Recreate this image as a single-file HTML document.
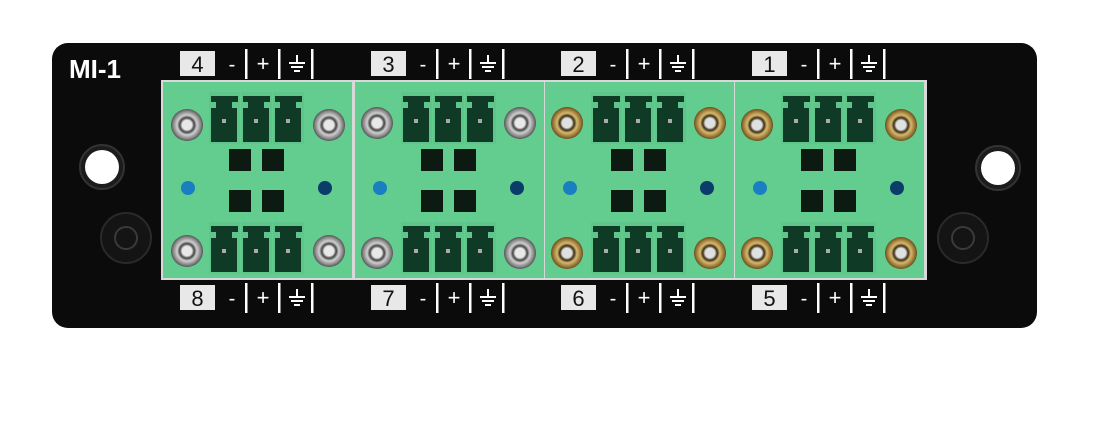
<!DOCTYPE html>
<html><head><meta charset="utf-8"><style>
html,body{margin:0;padding:0;background:#fff;}
svg{display:block;}
text{font-family:"Liberation Sans",sans-serif;}
</style></head><body>
<svg width="1100" height="438" viewBox="0 0 1100 438" xmlns="http://www.w3.org/2000/svg">
<defs>
<radialGradient id="steel" cx="50%" cy="50%" r="50%">
<stop offset="0.3" stop-color="#e8e8e8"/><stop offset="0.45" stop-color="#444"/><stop offset="0.62" stop-color="#cfcfcf"/><stop offset="0.85" stop-color="#8a8a8a"/><stop offset="1" stop-color="#555"/></radialGradient>
<radialGradient id="brass" cx="50%" cy="50%" r="50%">
<stop offset="0.3" stop-color="#e0e0e0"/><stop offset="0.45" stop-color="#3a2e14"/><stop offset="0.62" stop-color="#d8b870"/><stop offset="0.85" stop-color="#9a7a38"/><stop offset="1" stop-color="#6a5020"/></radialGradient>
<g id="conn">
<rect x="0" y="0" width="31" height="52" fill="#5fc58a"/>
<path d="M2,4 h27 v6 h-6 v6 h5 v34 h-26 v-34 h5 v-6 h-5z" fill="#0f3a26"/>
<rect x="13" y="27" width="4" height="4" fill="#aaa"/>
</g>
<g id="mod">
<rect x="0" y="0" width="189" height="196" fill="#62cd8f"/>
<use href="#conn" x="46" y="10"/><use href="#conn" x="78" y="10"/><use href="#conn" x="110" y="10"/>
<use href="#conn" x="46" y="140"/><use href="#conn" x="78" y="140"/><use href="#conn" x="110" y="140"/>
<rect x="66" y="67" width="22" height="22" fill="#0c1a12"/><rect x="99" y="67" width="22" height="22" fill="#0c1a12"/>
<rect x="66" y="108" width="22" height="22" fill="#0c1a12"/><rect x="99" y="108" width="22" height="22" fill="#0c1a12"/>
<circle cx="25" cy="106" r="7" fill="#1a7fc0"/><circle cx="162" cy="106" r="7" fill="#0b3c6a"/>
</g>
<g id="lab">
<rect x="0" y="0" width="35" height="25" fill="#e8e8e8"/>
<text x="52" y="20" font-size="20" fill="#fff" text-anchor="middle">-</text>
<rect x="65" y="-2" width="2.5" height="30" fill="#fff"/>
<text x="83" y="20" font-size="22" fill="#fff" text-anchor="middle">+</text>
<rect x="98" y="-2" width="2.5" height="30" fill="#fff"/>
<g stroke="#fff" stroke-width="2"><line x1="117" y1="4" x2="117" y2="12"/><line x1="109" y1="12" x2="125" y2="12"/><line x1="111" y1="16" x2="123" y2="16"/><line x1="114" y1="20" x2="120" y2="20"/></g>
<rect x="131" y="-2" width="2.5" height="30" fill="#fff"/>
</g>
</defs>
<rect x="52" y="43" width="985" height="285" rx="16" fill="#0b0b0c"/>
<text x="69" y="78" font-size="26" fill="#fff" font-weight="bold">MI-1</text>
<circle cx="102" cy="167" r="22" fill="#1c1c1c" stroke="#333" stroke-width="2"/><circle cx="102" cy="167" r="17" fill="#fff"/>
<circle cx="126" cy="238" r="25" fill="#141414" stroke="#2a2a2a" stroke-width="2"/><circle cx="126" cy="238" r="11" fill="none" stroke="#3a3a3a" stroke-width="2"/>
<circle cx="998" cy="168" r="22" fill="#1c1c1c" stroke="#333" stroke-width="2"/><circle cx="998" cy="168" r="17" fill="#fff"/>
<circle cx="963" cy="238" r="25" fill="#141414" stroke="#2a2a2a" stroke-width="2"/><circle cx="963" cy="238" r="11" fill="none" stroke="#3a3a3a" stroke-width="2"/>
<rect x="161" y="80" width="766" height="200" fill="#d8d8d8"/>
<g transform="translate(163,82)"><use href="#mod"/><circle cx="24" cy="43" r="16" fill="url(#steel)"/><circle cx="166" cy="43" r="16" fill="url(#steel)"/><circle cx="24" cy="169" r="16" fill="url(#steel)"/><circle cx="166" cy="169" r="16" fill="url(#steel)"/></g>
<g transform="translate(355,82)"><use href="#mod"/><circle cx="22" cy="41" r="16" fill="url(#steel)"/><circle cx="165" cy="41" r="16" fill="url(#steel)"/><circle cx="22" cy="171" r="16" fill="url(#steel)"/><circle cx="165" cy="171" r="16" fill="url(#steel)"/></g>
<g transform="translate(545,82)"><use href="#mod"/><circle cx="22" cy="41" r="16" fill="url(#brass)"/><circle cx="165" cy="41" r="16" fill="url(#brass)"/><circle cx="22" cy="171" r="16" fill="url(#brass)"/><circle cx="165" cy="171" r="16" fill="url(#brass)"/></g>
<g transform="translate(735,82)"><use href="#mod"/><circle cx="22" cy="43" r="16" fill="url(#brass)"/><circle cx="166" cy="43" r="16" fill="url(#brass)"/><circle cx="22" cy="171" r="16" fill="url(#brass)"/><circle cx="166" cy="171" r="16" fill="url(#brass)"/></g>
<g transform="translate(180,51)"><use href="#lab"/><text x="17.5" y="21" font-size="22" fill="#111" text-anchor="middle">4</text></g>
<g transform="translate(371,51)"><use href="#lab"/><text x="17.5" y="21" font-size="22" fill="#111" text-anchor="middle">3</text></g>
<g transform="translate(561,51)"><use href="#lab"/><text x="17.5" y="21" font-size="22" fill="#111" text-anchor="middle">2</text></g>
<g transform="translate(752,51)"><use href="#lab"/><text x="17.5" y="21" font-size="22" fill="#111" text-anchor="middle">1</text></g>
<g transform="translate(180,285)"><use href="#lab"/><text x="17.5" y="21" font-size="22" fill="#111" text-anchor="middle">8</text></g>
<g transform="translate(371,285)"><use href="#lab"/><text x="17.5" y="21" font-size="22" fill="#111" text-anchor="middle">7</text></g>
<g transform="translate(561,285)"><use href="#lab"/><text x="17.5" y="21" font-size="22" fill="#111" text-anchor="middle">6</text></g>
<g transform="translate(752,285)"><use href="#lab"/><text x="17.5" y="21" font-size="22" fill="#111" text-anchor="middle">5</text></g>
</svg>
</body></html>
